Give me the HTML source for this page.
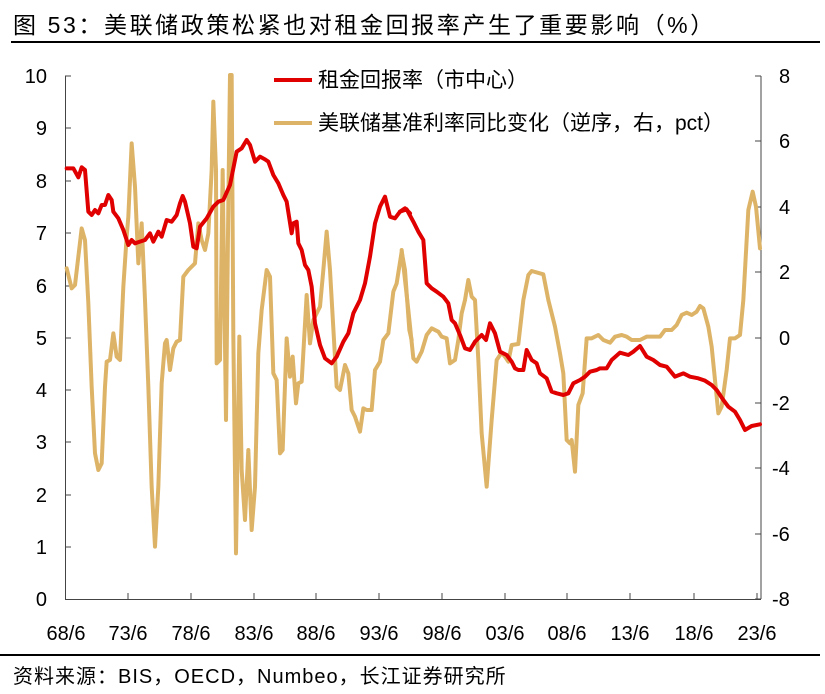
<!DOCTYPE html>
<html><head><meta charset="utf-8"><style>
body{margin:0;background:#fff;}
svg{display:block;font-family:"Liberation Sans","Noto Sans CJK SC",sans-serif;}
</style></head><body>
<svg width="825" height="694" viewBox="0 0 825 694" xmlns="http://www.w3.org/2000/svg">
<text x="13" y="33" font-size="23" letter-spacing="2.6" fill="#000">图  53：美联储政策松紧也对租金回报率产生了重要影响（%）</text>
<line x1="11" y1="42" x2="820" y2="42" stroke="#000" stroke-width="2"/>
<line x1="0" y1="655" x2="820" y2="655" stroke="#000" stroke-width="2"/>
<text x="13" y="683" font-size="20" letter-spacing="1" fill="#000">资料来源：BIS，OECD，Numbeo，长江证券研究所</text>

<g stroke="#444" stroke-width="1" fill="none">
<line x1="65.5" y1="76" x2="65.5" y2="599"/>
<line x1="761" y1="76" x2="761" y2="599"/>
<line x1="65" y1="599.5" x2="761" y2="599.5"/>
<path d="M65 76h6M65 128h6M65 181h6M65 233h6M65 286h6M65 338h6M65 390h6M65 442h6M65 495h6M65 547h6"/>
<path d="M761 76h-6M761 141h-6M761 207h-6M761 272h-6M761 338h-6M761 403h-6M761 468h-6M761 534h-6M761 599h-6"/>
<path d="M128 599v-6M191 599v-6M254 599v-6M316 599v-6M379 599v-6M442 599v-6M505 599v-6M567 599v-6M630 599v-6M694 599v-6M757 599v-6"/>
</g>
<g font-size="20" fill="#000" text-anchor="end">
<text x="47" y="83">10</text><text x="47" y="135">9</text><text x="47" y="188">8</text><text x="47" y="240">7</text><text x="47" y="293">6</text><text x="47" y="345">5</text><text x="47" y="397">4</text><text x="47" y="449">3</text><text x="47" y="502">2</text><text x="47" y="554">1</text><text x="47" y="606">0</text>
</g>
<g font-size="20" fill="#000" text-anchor="start">
<text x="779" y="83">8</text><text x="779" y="148">6</text><text x="779" y="214">4</text><text x="779" y="279">2</text><text x="779" y="345">0</text><text x="772" y="410">-2</text><text x="772" y="475">-4</text><text x="772" y="541">-6</text><text x="772" y="606">-8</text>
</g>
<g font-size="20" fill="#000" text-anchor="middle">
<text x="66" y="640">68/6</text><text x="128" y="640">73/6</text><text x="191" y="640">78/6</text><text x="254" y="640">83/6</text><text x="316" y="640">88/6</text><text x="379" y="640">93/6</text><text x="442" y="640">98/6</text><text x="505" y="640">03/6</text><text x="567" y="640">08/6</text><text x="630" y="640">13/6</text><text x="694" y="640">18/6</text><text x="757" y="640">23/6</text>
</g>

<g fill="none" stroke-linejoin="round" stroke-linecap="round">
<g transform="translate(60,70) scale(0.33333)">
<polyline stroke="#DDB467" stroke-width="12" points="20,595 35,655 45,645 55,560 65,475 75,510 85,700 95,950 105,1150 115,1200 125,1180 135,950 140,875 150,870 160,790 170,860 180,870 190,650 200,500 205,440 215,220 225,350 235,580 245,460 255,690 265,950 275,1250 285,1430 295,1250 305,940 315,820 320,810 330,900 340,835 350,815 360,810 370,620 385,600 405,580 415,460 425,510 435,540 445,490 455,300 460,95 468,300 470,880 480,870 488,300 498,1050 505,400 510,15 515,15 520,800 528,1450 538,800 545,1200 555,1350 565,1140 575,1380 585,1250 595,850 605,720 620,600 630,620 640,910 650,930 660,1150 668,1140 680,805 690,920 698,860 708,1000 715,940 725,935 740,675 750,820 760,750 780,710 790,600 800,485 810,600 830,950 840,960 855,885 865,910 875,1020 885,1040 900,1085 910,1015 920,1020 935,1020 945,900 960,875 970,810 985,790 1000,665 1010,640 1025,545 1035,600 1048,780 1055,810"/>
<polyline stroke="#E00000" stroke-width="12" points="20,295 40,295 55,322 65,292 75,300 85,425 95,435 105,420 115,430 125,405 135,405 145,375 155,390 160,425 175,445 190,480 205,525 215,510 225,520 240,515 255,510 270,490 280,515 295,485 305,500 320,450 335,455 350,435 360,400 368,378 375,395 390,460 400,530 410,535 420,470 440,445 460,410 475,395 490,390 510,345 530,245 545,235 560,210 570,225 585,275 600,260 615,268 625,275 640,315 655,340 670,375 680,395 695,490 700,460 710,455 715,520 725,540 735,585 745,600 755,650 765,760 780,825 795,865 815,880 830,860 850,815 865,790 880,730 900,690 915,640 930,560 945,460 960,410 975,380 990,440 1005,445 1020,425 1035,415 1050,430"/>
</g>
<g transform="translate(400,160) scale(0.33333)">
<polyline stroke="#DDB467" stroke-width="12" points="5,270 25,450 40,595 50,605 65,575 80,525 95,505 115,515 125,530 140,535 150,610 165,600 175,540 185,460 195,420 205,360 215,410 225,420 235,600 245,820 260,980 275,780 290,600 305,578 315,590 325,605 335,555 355,552 370,420 385,345 395,333 430,343 445,420 465,500 480,580 490,640 500,840 510,850 515,840 525,935 535,735 548,700 560,535 575,535 595,525 610,540 630,548 645,530 665,525 680,530 695,540 720,540 740,530 780,530 795,510 815,510 830,495 845,465 860,458 875,465 890,455 900,438 910,445 925,500 935,560 945,660 955,760 965,740 980,630 990,535 1005,535 1020,525 1030,420 1045,150 1058,95 1068,140 1080,265"/>
<polyline stroke="#E00000" stroke-width="12" points="0,155 20,148 40,185 55,215 70,240 80,370 95,385 110,395 130,410 145,430 155,480 165,490 180,525 195,565 210,570 225,545 245,525 258,540 270,490 285,520 300,575 320,585 335,605 345,625 355,630 370,630 380,570 395,600 410,610 420,640 440,655 455,695 470,700 490,705 505,700 520,670 540,660 555,650 570,635 590,630 600,625 620,625 635,600 660,578 685,585 700,575 720,558 740,590 760,600 780,615 800,620 825,650 850,640 870,650 895,655 915,662 935,675 950,690 970,720 985,740 1005,755 1020,780 1035,810 1055,798 1080,793"/>
</g>
</g>

<line x1="274" y1="80" x2="312" y2="80" stroke="#E00000" stroke-width="4"/>
<text x="318" y="87" font-size="21" fill="#000">租金回报率（市中心）</text>
<line x1="274" y1="123" x2="312" y2="123" stroke="#DDB467" stroke-width="4"/>
<text x="318" y="130" font-size="21" fill="#000">美联储基准利率同比变化（逆序，右，pct）</text>
</svg>
</body></html>
